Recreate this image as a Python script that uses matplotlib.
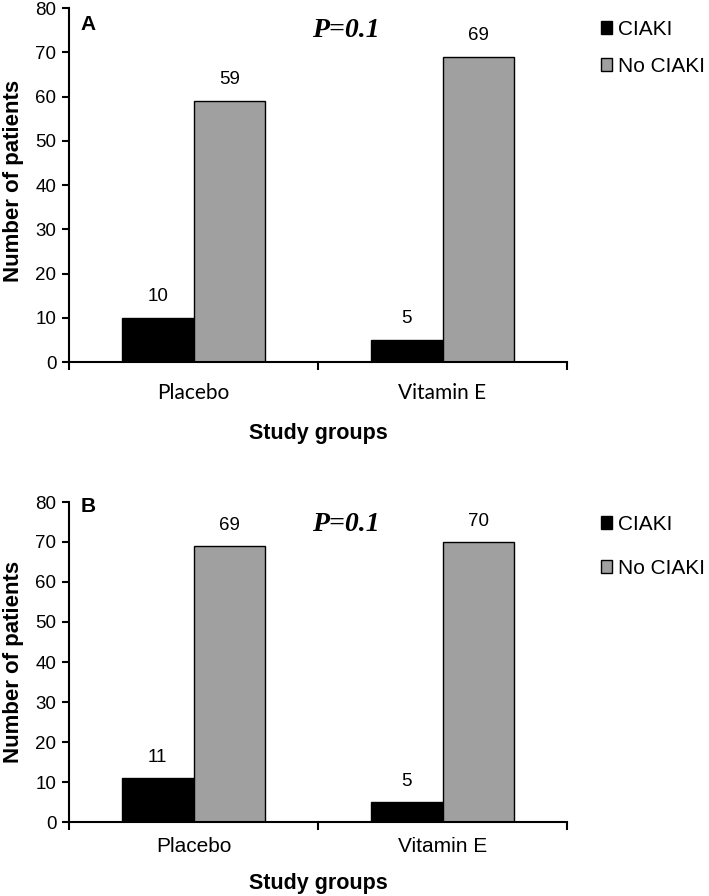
import matplotlib.pyplot as plt
from matplotlib.patches import Patch

# data
groups = ['Placebo', 'Vitamin E']
series = ['CIAKI', 'No CIAKI']
ciaki_a = [10, 5]
no_ciaki_a = [59, 69]
ciaki_b = [11, 5]
no_ciaki_b = [69, 70]
panel_labels = ['A', 'B']
p_text = 'P=0.1'

BLACK = '#000000'
GRAY = '#a0a0a0'
SANS = 'Liberation Sans'

W, H = 709, 896
fig = plt.figure(figsize=(W / 100, H / 100), dpi=100)


def px_axes(left, right, top, bottom):
    return fig.add_axes([left / W, 1 - bottom / H, (right - left) / W, (bottom - top) / H])


def draw_panel(ax, ciaki, no_ciaki, label, cat_font, opts):
    width = 0.288
    centers = [0.5 + i for i in range(len(groups))]
    b1 = ax.bar([c - width / 2 for c in centers], ciaki, width, color=BLACK,
                edgecolor='black', linewidth=1)
    b2 = ax.bar([c + width / 2 for c in centers], no_ciaki, width, color=GRAY,
                edgecolor='black', linewidth=1)
    for bars in (b1, b2):
        for rect in bars:
            h = rect.get_height()
            ax.annotate(f'{h:g}', (rect.get_x() + rect.get_width() / 2, h),
                        xytext=(0, 9), textcoords='offset points',
                        ha='center', va='bottom', fontsize=13.5, family=SANS)

    ax.set_xlim(0, len(groups))
    ax.set_ylim(0, 80)
    ax.set_yticks(range(0, 81, 10))
    ax.set_xticks(range(len(groups) + 1))
    ax.set_xticklabels([])
    ax.set_xticks(centers, minor=True)
    ax.set_xticklabels(groups, minor=True, fontsize=15, family=cat_font)
    ax.tick_params(axis='x', which='minor', length=0, pad=opts['cat_pad'])
    ax.tick_params(axis='x', which='major', length=6, width=1.5, direction='out')
    ax.tick_params(axis='y', length=5, width=1.5, direction='out', pad=4)
    for t in ax.get_yticklabels():
        t.set_fontsize(13.5)
        t.set_family(SANS)
    for s in ('top', 'right'):
        ax.spines[s].set_visible(False)
    for s in ('left', 'bottom'):
        ax.spines[s].set_linewidth(1.5)

    ax.set_xlabel('Study groups', fontsize=15.5, fontweight='bold', family=SANS)
    ax.xaxis.set_label_coords(0.5, opts['xlabel_y'])
    ax.set_ylabel('Number of patients', fontsize=16, fontweight='bold', family=SANS)
    ax.yaxis.set_label_coords(-0.09, opts['ylabel_y'])

    ax.text(0.024, opts['letter_y'], label, transform=ax.transAxes, ha='left', va='top',
            fontsize=15, fontweight='bold', family=SANS)
    ax.text(0.556, opts['p_y'], p_text, transform=ax.transAxes, ha='center', va='top',
            fontsize=20, fontweight='bold', style='italic', family='Liberation Serif')

    handles = [Patch(facecolor=BLACK, edgecolor='black'),
               Patch(facecolor=GRAY, edgecolor='black')]
    fig.legend(handles, series, loc='upper left',
               bbox_to_anchor=(601 / W, 1 - opts['legend_top'] / H), frameon=False,
               prop={'family': SANS, 'size': 15}, handlelength=0.55,
               handleheight=0.55, handletextpad=0.25, borderpad=0,
               borderaxespad=0, labelspacing=opts['spacing'])


ax_a = px_axes(69, 567, 8, 362)
draw_panel(ax_a, ciaki_a, no_ciaki_a, panel_labels[0], 'Lato',
           dict(cat_pad=15, xlabel_y=-0.172, ylabel_y=0.511, letter_y=0.98,
                p_y=0.972, legend_top=20, spacing=0.87))

ax_b = px_axes(69, 567, 502, 822)
draw_panel(ax_b, ciaki_b, no_ciaki_b, panel_labels[1], SANS,
           dict(cat_pad=11, xlabel_y=-0.159, ylabel_y=0.5, letter_y=1.016,
                p_y=0.97, legend_top=515, spacing=1.2))

fig.savefig('out.png', dpi=100)
